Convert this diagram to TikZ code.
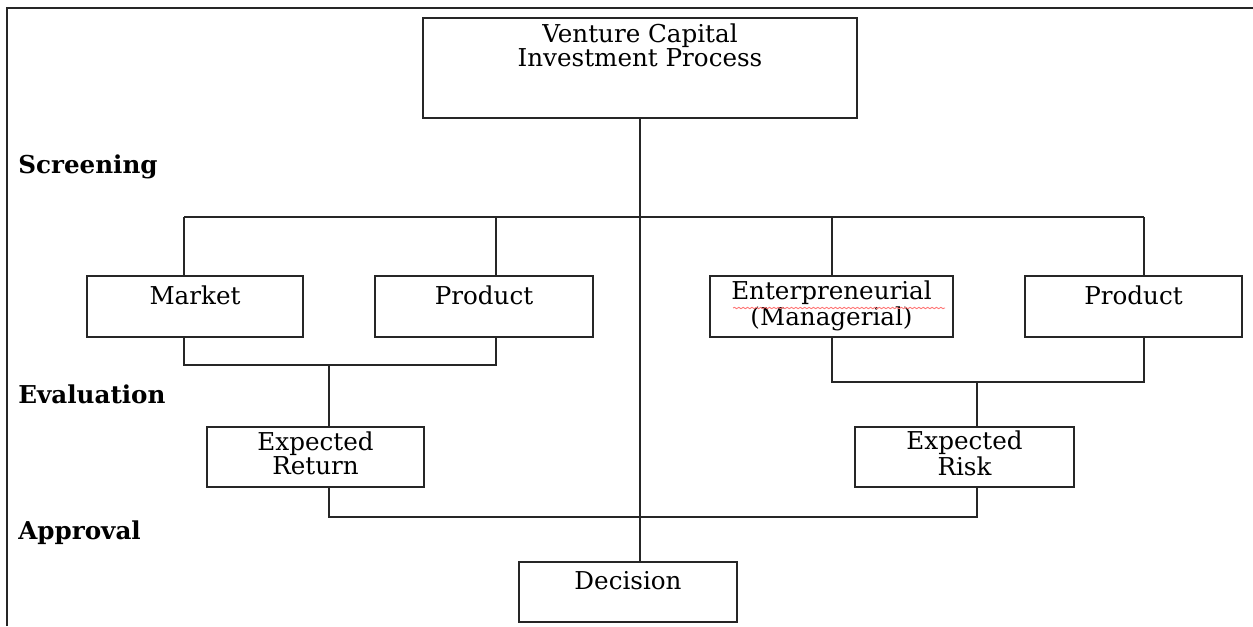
\documentclass[tikz,border=0pt]{standalone}
\usepackage{fontspec}
\setmainfont{DejaVu Serif}
\usetikzlibrary{decorations.pathmorphing}
\tikzstyle{stage} = [rectangle, draw=black!85, line width=1.3pt, minimum height=1.2cm, inner sep=0pt]
\tikzstyle{intext} = [anchor=center, align=center, inner sep=0pt, font=\fontsize{14}{13}\selectfont]
\tikzstyle{phase} = [anchor=base west, inner sep=0pt, font=\fontsize{14}{14}\selectfont\bfseries]
\tikzstyle{wire} = [line width=1.3pt, black!85]

\begin{document}
\begin{tikzpicture}
\useasboundingbox (0,0) rectangle (25.06,-12.52);
\draw[line width=1.5pt, black!85] (0.14,-12.52) -- (0.14,-0.16) -- (25.06,-0.16);

% boxes
\node (vc) [stage, minimum width=8.68cm, minimum height=2cm, label={[intext, yshift=-0.57cm]north:{Venture Capital\\Investment Process}}] at (12.8,-1.36) {};
\node (mkt) [stage, minimum width=4.32cm, minimum height=1.22cm, label={[intext, yshift=-0.4cm]north:Market}] at (3.9,-6.13) {};
\node (prodL) [stage, minimum width=4.36cm, minimum height=1.22cm, label={[intext, yshift=-0.4cm]north:Product}] at (9.68,-6.13) {};
\node (entr) [stage, minimum width=4.86cm, minimum height=1.22cm, label={[intext, yshift=-0.62cm]north:{Enterpreneurial\\(Managerial)}}] at (16.63,-6.13) {};
\node (prodR) [stage, minimum width=4.34cm, minimum height=1.22cm, label={[intext, yshift=-0.4cm]north:Product}] at (22.67,-6.13) {};
\node (ret) [stage, minimum width=4.34cm, label={[intext, yshift=-0.55cm]north:{Expected\\Return}}] at (6.31,-9.14) {};
\node (risk) [stage, minimum width=4.38cm, label={[intext, yshift=-0.55cm]north:{Expected\\Risk}}] at (19.29,-9.14) {};
\node (dec) [stage, minimum width=4.36cm, label={[intext, yshift=-0.4cm]north:Decision}] at (12.56,-11.84) {};

% phases
\node (scr) [phase] at (0.36,-3.46) {Screening};
\node (eva) [phase] at (0.36,-8.06) {Evaluation};
\node (app) [phase] at (0.36,-10.78) {Approval};

% spell-check mark
\draw[red!55, line width=0.5pt, decorate, decoration={snake, amplitude=0.4pt, segment length=2.5pt}] (14.66,-6.16) -- (18.9,-6.16);

% wires
\coordinate (tapA) at (3.68,-4.34);
\coordinate (tapB) at (9.92,-4.34);
\coordinate (tapC) at (16.64,-4.34);
\coordinate (tapD) at (22.88,-4.34);
\coordinate (joinL) at (6.58,-7.30);
\coordinate (joinR) at (19.54,-7.64);
\coordinate (joinB) at (12.8,-10.34);
\draw[wire] (vc.south) -- (vc.south |- dec.north);
\draw[wire] (tapA) -- (tapD);
\draw[wire] (tapA) -- (tapA |- mkt.north);
\draw[wire] (tapB) -- (tapB |- prodL.north);
\draw[wire] (tapC) -- (tapC |- entr.north);
\draw[wire] (tapD) -- (tapD |- prodR.north);
\draw[wire] (tapA |- mkt.south) -- (tapA |- joinL) -- (tapB |- joinL) -- (tapB |- prodL.south);
\draw[wire] (joinL) -- (joinL |- ret.north);
\draw[wire] (tapC |- entr.south) -- (tapC |- joinR) -- (tapD |- joinR) -- (tapD |- prodR.south);
\draw[wire] (joinR) -- (joinR |- risk.north);
\draw[wire] (joinL |- ret.south) -- (joinL |- joinB) -- (joinR |- joinB) -- (joinR |- risk.south);
\end{tikzpicture}
\end{document}
